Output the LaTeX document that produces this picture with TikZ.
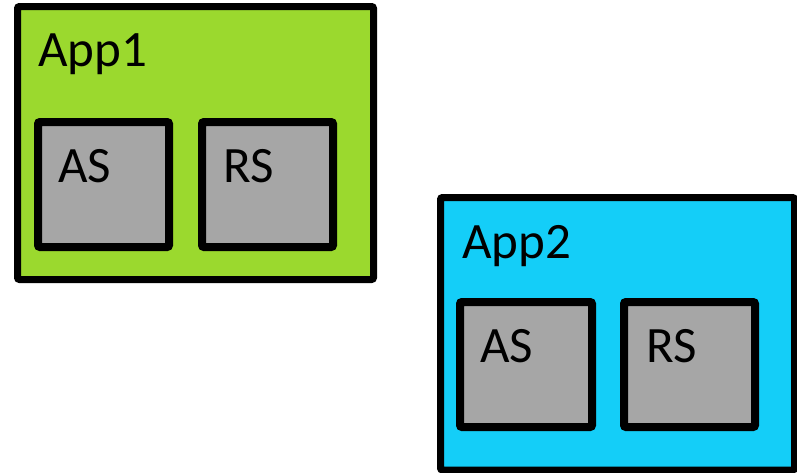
\documentclass[tikz,border=0pt]{standalone}
\usepackage{fontspec}
\setmainfont{Carlito}
\definecolor{appgreen}{RGB}{155,217,46}
\definecolor{appcyan}{RGB}{20,206,248}
\definecolor{srvgray}{RGB}{166,166,166}
\begin{document}
\begin{tikzpicture}[x=1pt,y=-1pt,
  appbox/.style={draw=black,line width=7pt,rounded corners=2pt,inner sep=0pt},
  srvbox/.style={draw=black,fill=srvgray,line width=8pt,rounded corners=2pt,inner sep=0pt,
    minimum width=131pt,minimum height=125pt},
  lbl/.style={anchor=base west,inner sep=0pt,font=\fontsize{51}{60}\selectfont}]
\useasboundingbox (0,0) rectangle (797,472);
% application containers
\node[appbox,fill=appgreen,minimum width=356pt,minimum height=273pt] (app1) at (195.5,143) {};
\node[appbox,fill=appcyan,minimum width=354pt,minimum height=272.5pt] (app2) at (617.5,333.75) {};
% servers inside each application
\node[srvbox] (as1) at (103.5,184.5) {};
\node[srvbox] (rs1) at (267.5,184.5) {};
\node[srvbox,minimum width=132pt] (as2) at (526,364.5) {};
\node[srvbox] (rs2) at (689.5,364.5) {};
% labels
\node[lbl] (t1) at (38,66) {App1};
\node[lbl] (t2) at (462,258) {App2};
\node[lbl] (t3) at (58,182) {AS};
\node[lbl] (t4) at (223,182) {RS};
\node[lbl] (t5) at (480,362) {AS};
\node[lbl] (t6) at (646,362) {RS};
\end{tikzpicture}
\end{document}
